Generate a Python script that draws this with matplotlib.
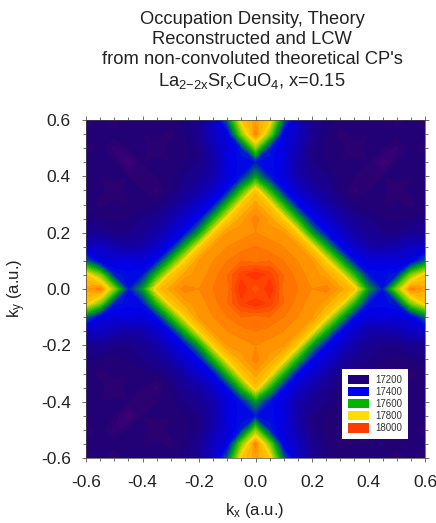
import numpy as np
import matplotlib
matplotlib.use('Agg')
import matplotlib.pyplot as plt
from matplotlib.colors import LinearSegmentedColormap, Normalize
from matplotlib.patches import Patch
from matplotlib.ticker import MultipleLocator

plt.rcParams['font.family'] = ['Liberation Sans', 'DejaVu Sans']
plt.rcParams['mathtext.fontset'] = 'custom'
plt.rcParams['mathtext.rm'] = 'Liberation Sans'
plt.rcParams['mathtext.it'] = 'Liberation Sans'
plt.rcParams['mathtext.default'] = 'regular'
plt.rcParams['axes.unicode_minus'] = False

# one quadrant, k = 0 .. 0.6 in steps of 0.05 (rows ky, columns kx)
k_quadrant = [0.0, 0.05, 0.1, 0.15, 0.2, 0.25, 0.3, 0.35, 0.4, 0.45, 0.5, 0.55, 0.6]
density = [
    [17960, 18020, 17930, 17920, 17900, 17910, 17870, 17830, 17560, 17420, 17700, 17910, 17870],
    [18020, 17990, 17940, 17910, 17890, 17870, 17820, 17620, 17420, 17410, 17430, 17700, 17820],
    [17930, 17940, 17920, 17900, 17880, 17810, 17610, 17410, 17360, 17370, 17360, 17370, 17500],
    [17920, 17910, 17900, 17880, 17810, 17600, 17400, 17330, 17280, 17270, 17290, 17320, 17320],
    [17900, 17890, 17880, 17810, 17570, 17400, 17340, 17270, 17240, 17220, 17220, 17240, 17240],
    [17910, 17870, 17810, 17600, 17400, 17340, 17280, 17240, 17220, 17200, 17190, 17200, 17210],
    [17870, 17820, 17610, 17400, 17340, 17280, 17230, 17200, 17190, 17180, 17190, 17170, 17190],
    [17830, 17620, 17410, 17330, 17270, 17240, 17200, 17150, 17180, 17190, 17160, 17190, 17200],
    [17560, 17420, 17360, 17280, 17240, 17220, 17190, 17180, 17170, 17180, 17190, 17180, 17200],
    [17420, 17410, 17370, 17270, 17220, 17200, 17180, 17190, 17180, 17120, 17180, 17190, 17190],
    [17700, 17430, 17360, 17290, 17220, 17190, 17190, 17160, 17190, 17180, 17150, 17190, 17160],
    [17910, 17700, 17370, 17320, 17240, 17200, 17170, 17190, 17180, 17190, 17190, 17200, 17190],
    [17870, 17820, 17500, 17320, 17240, 17210, 17190, 17200, 17200, 17190, 17160, 17190, 17150],
]
legend_levels = [17200, 17400, 17600, 17800, 18000]
legend_colors = ['#1e0078', '#0000f0', '#00b400', '#ffdc00', '#ff3c00']
ticks = [-0.6, -0.4, -0.2, 0.0, 0.2, 0.4, 0.6]
title_lines = ['Occupation Density, Theory', 'Reconstructed and LCW',
               "from non-convoluted theoretical CP's",
               'La$_{2\\mathrm{-}2x}$Sr$_x$CuO$_4$, x=0.15']

# the plot is symmetric about both axes
q = np.array(density, dtype=float)
z = np.block([[q[::-1, ::-1], q[::-1, 1:]], [q[1:, ::-1], q[1:, 1:]]])
k = np.array(k_quadrant)
k = np.concatenate([-k[::-1], k[1:]])

lo, hi = 17100, 18020
stops = [(0.0, '#4a0078'), ((17170 - lo) / (hi - lo), '#2a0070')]
stops += [((v - lo) / (hi - lo), c) for v, c in zip(legend_levels, legend_colors)]
stops += [(1.0, '#ff3000')]
cmap = LinearSegmentedColormap.from_list('occ', stops)

fig = plt.figure(figsize=(4.36, 5.23), dpi=100)
ax = fig.add_axes([86 / 436, 65 / 523, 339 / 436, 338 / 523])
ax.contourf(k, k, z, levels=np.arange(17100, 18041, 20), cmap=cmap,
            norm=Normalize(lo, hi), extend='both')

ax.set_xlim(-0.6, 0.6)
ax.set_ylim(-0.6, 0.6)
ax.set_xticks(ticks)
ax.set_yticks(ticks)
ax.xaxis.set_minor_locator(MultipleLocator(0.05))
ax.yaxis.set_minor_locator(MultipleLocator(0.05))
ax.tick_params(which='both', top=True, right=True, direction='out', color='#555555', width=0.6)
ax.tick_params(which='major', length=3, labelsize=12.5, labelcolor='#222222')
ax.tick_params(axis='x', which='major', pad=9)
ax.tick_params(axis='y', which='major', pad=8)
ax.tick_params(which='minor', length=2)
for s in ax.spines.values():
    s.set_linewidth(0.5)
    s.set_color('#444444')

for line, y in zip(title_lines, [19, 39, 60, 81]):
    fig.text(252 / 436, 1 - y / 523, line, ha='center', va='center', fontsize=13.2, color='#222222')
fig.text(255 / 436, 1 - 511 / 523, 'k$_x$ (a.u.)', ha='center', va='center', fontsize=12, color='#222222')
fig.text(17 / 436, 1 - 288 / 523, 'k$_y$ (a.u.)', ha='center', va='center', rotation=90,
         fontsize=12, color='#222222')

handles = [Patch(facecolor=c, edgecolor='none') for c in legend_colors]
leg = ax.legend(handles, [str(v) for v in legend_levels], loc='lower right',
                bbox_to_anchor=((408 - 86) / 339, (458 - 439) / 338), borderaxespad=0,
                fontsize=7, fancybox=False, framealpha=1, edgecolor='none',
                handlelength=2.2, handleheight=1.1, labelspacing=0.22, handletextpad=0.6,
                borderpad=0.6)
for t in leg.get_texts():
    t.set_color('#333333')

plt.savefig('out.png', dpi=100)
